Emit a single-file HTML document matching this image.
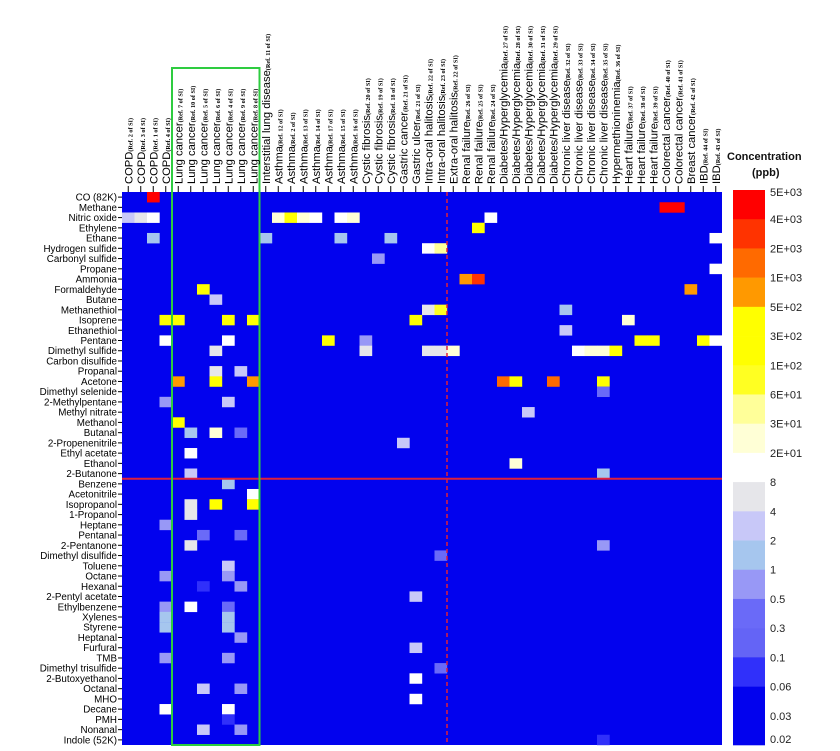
<!DOCTYPE html>
<html><head><meta charset="utf-8">
<style>
html,body{margin:0;padding:0;background:#fff;}
svg{display:block;font-family:"Liberation Sans",sans-serif;}
</style></head>
<body>
<svg id="chart" width="840" height="751" viewBox="0 0 840 751">
<g id="cells"></g>
<g id="rowlabels"></g>
<g id="collabels"></g>
<g id="cbar"></g>
</svg>
<script>
const rowLabels = ["CO (82K)","Methane","Nitric oxide","Ethylene","Ethane","Hydrogen sulfide","Carbonyl sulfide","Propane","Ammonia","Formaldehyde","Butane","Methanethiol","Isoprene","Ethanethiol","Pentane","Dimethyl sulfide","Carbon disulfide","Propanal","Acetone","Dimethyl selenide","2-Methylpentane","Methyl nitrate","Methanol","Butanal","2-Propenenitrile","Ethyl acetate","Ethanol","2-Butanone","Benzene","Acetonitrile","Isopropanol","1-Propanol","Heptane","Pentanal","2-Pentanone","Dimethyl disulfide","Toluene","Octane","Hexanal","2-Pentyl acetate","Ethylbenzene","Xylenes","Styrene","Heptanal","Furfural","TMB","Dimethyl trisulfide","2-Butoxyethanol","Octanal","MHO","Decane","PMH","Nonanal","Indole (52K)"];
const colNames = ["COPD","COPD","COPD","COPD","Lung cancer","Lung cancer","Lung cancer","Lung cancer","Lung cancer","Lung cancer","Lung cancer","Interstitial lung disease","Asthma","Asthma","Asthma","Asthma","Asthma","Asthma","Asthma","Cystic fibrosis","Cystic fibrosis","Cystic fibrosis","Gastric cancer","Gastric ulcer","Intra-oral halitosis","Intra-oral halitosis","Extra-oral halitosis","Renal failure","Renal failure","Renal failure","Diabetes/Hyperglycemia","Diabetes/Hyperglycemia","Diabetes/Hyperglycemia","Diabetes/Hyperglycemia","Diabetes/Hyperglycemia","Chronic liver disease","Chronic liver disease","Chronic liver disease","Chronic liver disease","Hypermethioninemia","Heart failure","Heart failure","Heart failure","Colorectal cancer","Colorectal cancer","Breast cancer","IBD","IBD"];
const colRefs = [2,3,1,4,7,10,5,6,4,9,8,11,12,2,13,14,17,15,16,20,19,18,21,21,22,23,22,26,25,24,27,28,30,31,29,32,33,34,35,36,37,38,39,40,41,42,44,43];
const cellRow = [0,1,1,2,2,2,2,2,2,2,2,2,2,3,4,4,4,4,4,5,5,6,7,8,8,9,9,10,11,11,11,12,12,12,12,12,12,13,14,14,14,14,14,14,14,14,15,15,15,15,15,15,15,15,15,17,17,18,18,18,18,18,18,18,19,20,20,21,22,23,23,23,24,25,26,27,27,28,29,30,30,30,31,32,33,33,34,34,35,36,37,37,38,38,39,40,40,40,41,41,42,42,43,44,45,45,46,47,48,48,49,50,50,51,52,52,53];
const cellCol = [2,43,44,0,1,2,12,13,14,15,17,18,29,28,2,11,17,21,47,24,25,20,47,27,28,6,45,7,24,25,35,3,4,8,10,23,40,35,3,8,16,19,41,42,46,47,7,19,24,25,26,36,37,38,39,7,9,4,7,10,30,31,34,38,38,3,8,32,4,5,7,9,22,5,31,5,38,8,10,5,7,10,5,3,6,9,5,38,25,8,3,8,6,9,23,3,5,8,3,8,3,8,9,23,3,8,25,23,6,9,23,3,8,8,6,9,38];
const cellVal = [5000,5000,5000,3,6,10,25,200,25,10,10,25,10,200,1.5,1.5,1.5,1.5,10,10,40,0.8,10,800,3000,200,800,3,6,80,1.5,200,200,200,200,200,25,3,10,10,200,0.8,200,200,200,10,6,6,6,6,25,10,25,25,200,6,3,800,200,800,1500,200,1500,200,0.4,0.8,3,3,200,1.5,25,0.4,3,10,25,3,1.5,1.5,10,6,200,200,6,0.8,0.4,0.4,6,0.8,0.4,3,0.8,0.8,0.08,0.8,3,0.8,10,0.4,1.5,1.5,1.5,1.5,0.8,3,0.8,0.8,0.4,10,3,0.8,10,10,10,0.08,3,0.8,0.08];
const scaleLabels = ["5E+03","4E+03","2E+03","1E+03","5E+02","3E+02","1E+02","6E+01","3E+01","2E+01","8","4","2","1","0.5","0.3","0.1","0.06","0.03","0.02"];
const scaleBounds = [5000,4000,2000,1000,500,300,100,60,30,20,8,4,2,1,0.5,0.3,0.1,0.06,0.03,0.02];
const scaleColors = ["#ff0000","#ff3300","#ff6a00","#ff9900","#ffff00","#ffff00","#ffff22","#ffff99","#ffffd6","#ffffff","#e6e6ea","#c8c8f8","#a6c6ee","#9898f6","#6a6af8","#6464f6","#3030fa","#0202ee","#0202ee"];

const NS="http://www.w3.org/2000/svg";
const X0=122,X1=722,Y0=192,Y1=745;
const nR=rowLabels.length,nC=colNames.length;
const cw=(X1-X0)/nC,rh=(Y1-Y0)/nR;
const xPos=c=>X0+c*cw, yPos=r=>Y0+r*rh;
function colorFor(v){for(let i=0;i<scaleColors.length;i++){if(v>=scaleBounds[i+1])return scaleColors[i];}return "#0202ee";}
function mk(tag,attrs,parent){const e=document.createElementNS(NS,tag);for(const k in attrs)e.setAttribute(k,attrs[k]);parent.appendChild(e);return e;}

const gc=document.getElementById('cells');
let bg=mk('rect',{x:X0,y:Y0,width:X1-X0,height:Y1-Y0,fill:'#0202ee'},gc);


for(let i=0;i<cellVal.length;i++){
  const r=mk('rect',{x:xPos(cellCol[i]),y:yPos(cellRow[i]),width:cw+0.2,height:rh+0.2,fill:colorFor(cellVal[i])},gc);
  
  
}
let hl=mk('line',{x1:X0,x2:X1,y1:yPos(28),y2:yPos(28),stroke:'#e0203a','stroke-width':2},gc);


let vl=mk('line',{x1:xPos(26),x2:xPos(26),y1:Y0,y2:Y1,stroke:'#e0203a','stroke-width':1.5,'stroke-dasharray':'4,3'},gc);


let gb=mk('rect',{x:xPos(4),y:68,width:7*cw,height:Y1-68,fill:'none',stroke:'#2ecc40','stroke-width':2},gc);



const gr=document.getElementById('rowlabels');
for(let i=0;i<nR;i++){
  const y=yPos(i)+rh/2;
  const t=mk('text',{x:117,y:y+3.5,'text-anchor':'end','font-size':9.8,fill:'#000'},gr);
  t.textContent=rowLabels[i];
  
  
  mk('line',{x1:118,x2:122,y1:y,y2:y,stroke:'#000','stroke-width':1},gr);
}
const gl=document.getElementById('collabels');
for(let c=0;c<nC;c++){
  const x=xPos(c)+cw/2;
  mk('line',{x1:x,x2:x,y1:186,y2:Y0,stroke:'#000','stroke-width':1},gl);
  const t=mk('text',{transform:`translate(${x+4},184) rotate(-90)`,'font-size':11.2,fill:'#000'},gl);
  
  
  const a=mk('tspan',{},t);a.textContent=colNames[c];
  const b=mk('tspan',{'font-size':6.2,'font-weight':'bold','font-family':'"Liberation Serif",serif'},t);
  b.textContent='(Ref. '+colRefs[c]+' of SI)';
}
const gcb=document.getElementById('cbar');
const ct=mk('text',{x:727,y:160,'font-size':11,'font-weight':'bold',fill:'#111'},gcb);
ct.textContent='Concentration';


const cu=mk('text',{x:752,y:176,'font-size':11,'font-weight':'bold',fill:'#111'},gcb);
cu.textContent='(ppb)';


const CB0=190,CB1=745,seg=(CB1-CB0)/scaleColors.length;
for(let i=0;i<scaleColors.length;i++){
  const r=mk('rect',{x:733,y:CB0+i*seg,width:32,height:seg+0.3,fill:scaleColors[i]},gcb);
  
  
}
for(let i=0;i<scaleLabels.length;i++){
  const t=mk('text',{x:770,y:CB0+i*seg+(i===0?6:(i===scaleLabels.length-1?-2:4)),'font-size':11,fill:'#222'},gcb);
  t.textContent=scaleLabels[i];
  
  
}
</script>
</body></html>
